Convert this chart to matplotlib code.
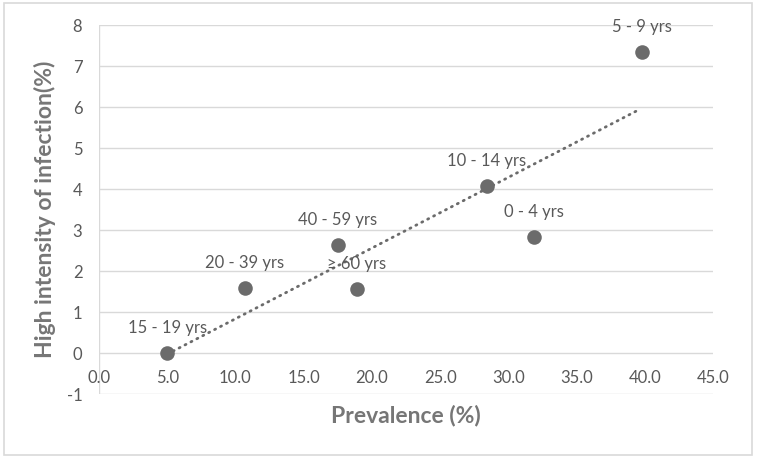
import numpy as np
import matplotlib.pyplot as plt
from matplotlib.patches import Rectangle

plt.rcParams['font.family'] = ['Lato', 'DejaVu Sans']

# age groups, prevalence (%) and high intensity of infection (%)
groups = ['0 - 4 yrs', '5 - 9 yrs', '10 - 14 yrs', '15 - 19 yrs',
          '20 - 39 yrs', '40 - 59 yrs', '\u2265 60 yrs']
prevalence = [31.9, 39.8, 28.4, 5.0, 10.7, 17.5, 18.9]
high_int = [2.83, 7.35, 4.07, 0.0, 1.58, 2.63, 1.56]

xticks = np.arange(0, 45.1, 5)
yticks = np.arange(-1, 8.1, 1)

txt = '#595959'
grid = '#d9d9d9'
mark = '#6b6b6b'
title_col = '#767676'

fig = plt.figure(figsize=(7.57, 4.58), dpi=100)
ax = fig.add_axes([0.1308, 0.1397, 0.8111, 0.8057])

ax.set_xlim(0, 45)
ax.set_ylim(-1, 8)
ax.set_yticks(yticks)
ax.set_yticklabels(['%d' % v for v in yticks])
ax.set_xticks(xticks)
ax.set_xticklabels([])

for y in yticks:
    ax.axhline(y, color=grid, lw=1.0, zorder=0)
ax.axvline(0, color=grid, lw=1.0, zorder=0)

for s in ax.spines.values():
    s.set_visible(False)
ax.tick_params(length=0, labelsize=12, colors=txt, pad=12)

# x labels sit under the y=0 line like in Excel
for x in xticks:
    ax.text(x, -0.6, '%.1f' % x, ha='center', va='center', fontsize=12, color=txt)

# linear trendline
k, b = np.polyfit(prevalence, high_int, 1)
tx = np.array([min(prevalence), max(prevalence) - 0.35])
ax.plot(tx, k * tx + b, color=mark, lw=2.0, ls=(0, (0.4, 2.0)),
        dash_capstyle='round', zorder=2)

ax.scatter(prevalence, high_int, s=110, color=mark, zorder=3, linewidths=0)

for g, x, y in zip(groups, prevalence, high_int):
    ax.annotate(g, (x, y), xytext=(0, 18), textcoords='offset points',
                ha='center', va='center', fontsize=12, color=txt, zorder=4)

ax.set_xlabel('Prevalence (%)', fontsize=16.5, fontweight='bold', color=title_col)
ax.xaxis.set_label_coords(0.5, -0.057)
ax.xaxis.label.set_va('center')
ax.set_ylabel('High intensity of infection(%)', fontsize=16.5, fontweight='bold', color=title_col)
ax.yaxis.set_label_coords(-0.088, 0.5)
ax.yaxis.label.set_va('center')

fig.patches.append(Rectangle((4 / 757, 3 / 458), 748 / 757, 452 / 458, transform=fig.transFigure,
                             fill=False, edgecolor=grid, lw=1.2))

fig.savefig('out.png', dpi=100)
